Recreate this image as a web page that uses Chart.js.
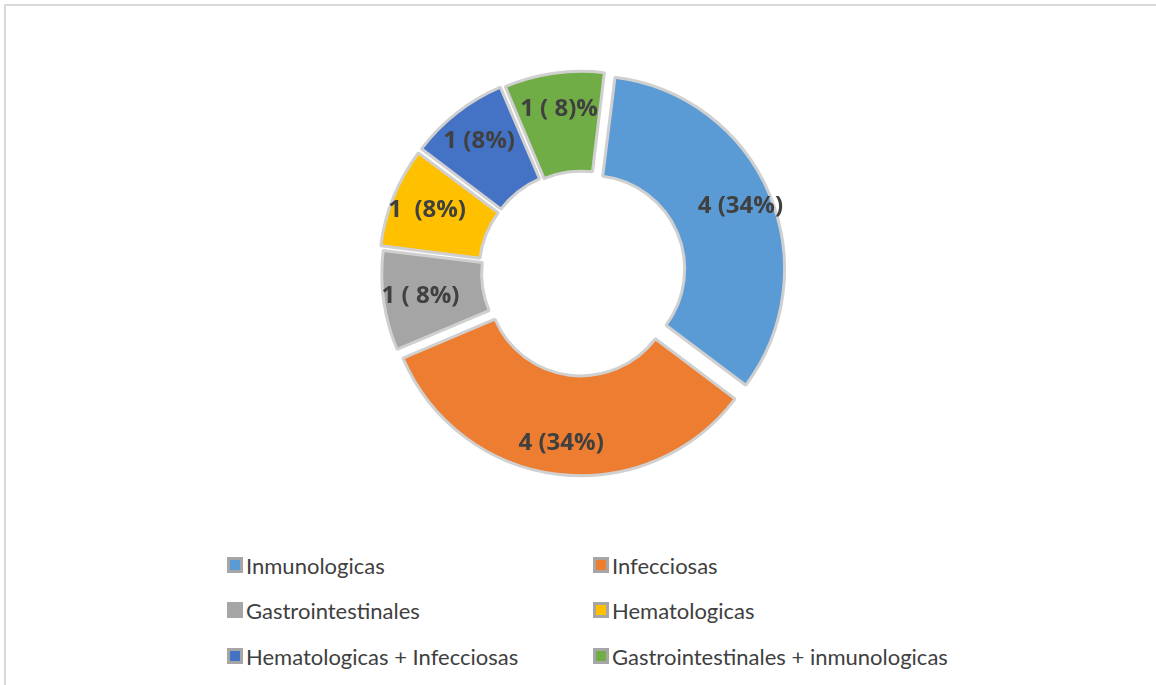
<!DOCTYPE html>
<html lang="es">
<head>
    <meta charset="UTF-8">
    <title>Distribución por tipo</title>
    <script src="https://cdn.jsdelivr.net/npm/chart.js"></script>
    <style>
        html, body {
            margin: 0;
            padding: 0;
            background: #ffffff;
        }
        .frame {
            position: absolute;
            left: 4px;
            top: 4px;
            width: 1152px;
            height: 681px;
            border-top: 2px solid #d9d9d9;
            border-left: 2px solid #d9d9d9;
        }
        .chart-box {
            position: absolute;
            left: 0;
            top: 0;
            width: 1156px;
            height: 546px;
        }
        #legend {
            position: absolute;
            left: 0;
            top: 0;
            font-family: Lato, "Open Sans", sans-serif;
            font-size: 22px;
            color: #404040;
        }
        .item {
            position: absolute;
            display: flex;
            align-items: center;
            white-space: nowrap;
            height: 24px;
        }
        .swatch {
            width: 10px;
            height: 10px;
            border: 3px solid #a6a6a6;
            margin-right: 3px;
        }
    </style>
</head>
<body>
    <div class="frame"></div>
    <div class="chart-box">
        <canvas id="chart"></canvas>
    </div>
    <div id="legend"></div>

    <script>
        const categories = ["Inmunologicas", "Infecciosas", "Gastrointestinales", "Hematologicas",
            "Hematologicas + Infecciosas", "Gastrointestinales + inmunologicas"];
        const values = [4, 4, 1, 1, 1, 1];
        const valueLabels = ["4 (34%)", "4 (34%)", "1 ( 8%)", "1  (8%)", "1 (8%)", "1 ( 8)%"];
        const colors = ["#5b9bd5", "#ed7d31", "#a5a5a5", "#ffc000", "#4472c4", "#70ad47"];
        // chart.js moves a slice out by half of its offset
        const explode = [40, 38, 22, 30, 30, 26];

        // labels drawn on each slice, toward its outer part
        const sliceLabels = {
            id: 'sliceLabels',
            afterDatasetsDraw(chart) {
                const ctx = chart.ctx;
                const meta = chart.getDatasetMeta(0);
                ctx.save();
                ctx.font = "bold 24px 'Open Sans', sans-serif";
                ctx.fillStyle = "#404040";
                ctx.textAlign = "center";
                ctx.textBaseline = "middle";
                meta.data.forEach((arc, i) => {
                    const p = arc.getProps(['x', 'y', 'startAngle', 'endAngle', 'innerRadius', 'outerRadius'], true);
                    const a = (p.startAngle + p.endAngle) / 2;
                    const r = p.innerRadius + 0.6 * (p.outerRadius - p.innerRadius) + arc.options.offset / 2;
                    ctx.fillText(valueLabels[i], p.x + Math.cos(a) * r, p.y + Math.sin(a) * r);
                });
                ctx.restore();
            }
        };

        new Chart(document.getElementById('chart'), {
            type: 'doughnut',
            data: {
                labels: categories,
                datasets: [{
                    data: values,
                    backgroundColor: colors,
                    borderColor: "#d0d0d0",
                    borderWidth: 3,
                    offset: explode
                }]
            },
            options: {
                responsive: true,
                maintainAspectRatio: false,
                animation: false,
                rotation: 7,
                cutout: '48%',
                radius: 192,
                layout: { padding: { left: 8, right: 0, top: 0, bottom: 0 } },
                plugins: {
                    legend: { display: false },
                    tooltip: { enabled: false }
                }
            },
            plugins: [sliceLabels]
        });

        // legend in two columns, as in the original
        const legend = document.getElementById('legend');
        const colX = [227, 593];
        const rowY = [565, 610, 656];
        categories.forEach((name, i) => {
            const item = document.createElement('div');
            item.className = 'item';
            item.style.left = colX[i % 2] + 'px';
            item.style.top = (rowY[Math.floor(i / 2)] - 12) + 'px';
            item.innerHTML = '<span class="swatch" style="background:' + colors[i] + '"></span>' + name;
            legend.appendChild(item);
        });
    </script>
</body>
</html>
